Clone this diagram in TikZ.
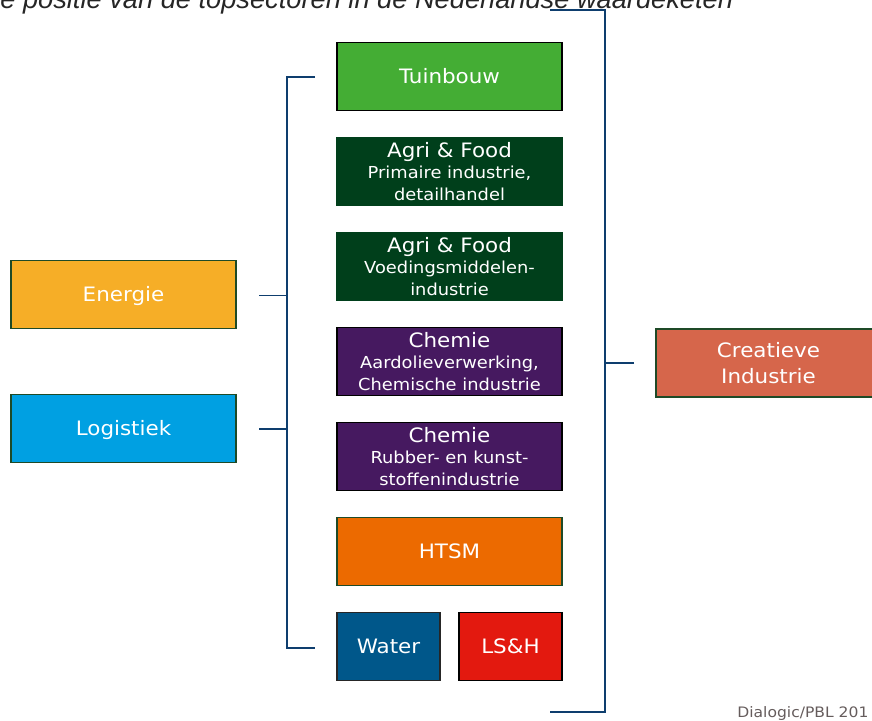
\documentclass[tikz,border=0pt]{standalone}
\usepackage{fontspec}
\setmainfont{DejaVu Sans}[FakeStretch=1.08]
\newfontfamily\titlefont{Liberation Sans}
\usepackage{xcolor}
\definecolor{cTuin}{HTML}{44AD34}
\definecolor{cAgri}{HTML}{003F1B}
\definecolor{cChem}{HTML}{461960}
\definecolor{cHtsm}{HTML}{EC6A00}
\definecolor{cWater}{HTML}{00578A}
\definecolor{cLsh}{HTML}{E3190F}
\definecolor{cEnergie}{HTML}{F6AE27}
\definecolor{cLogis}{HTML}{00A0E2}
\definecolor{cCreat}{HTML}{D6664B}
\definecolor{cLine}{HTML}{0E3E6E}
\definecolor{cEdge}{HTML}{1E4A27}
\definecolor{cSource}{HTML}{655C5C}
\usepackage{tikz}
\usetikzlibrary{positioning}
\newcommand{\subsize}{\fontsize{9.4}{11.3}\selectfont}
\tikzset{
  node-box/.style={draw=cEdge,line width=0.8pt,minimum width=4.5cm,
    minimum height=1.36cm,inner sep=0pt,outer sep=0pt,align=center,
    text=white,font=\fontsize{11.3}{12.3}\selectfont},
  node-one/.style={text height=0.8em,text depth=0pt},
  node-small/.style={minimum width=2.06cm},
  node-tuin/.style={fill=cTuin,draw=black},
  node-agri/.style={fill=cAgri,draw=cAgri},
  node-chem/.style={fill=cChem,draw=black},
  node-htsm/.style={fill=cHtsm},
  node-water/.style={fill=cWater,draw=black!85},
  node-lsh/.style={fill=cLsh,draw=black},
  node-energie/.style={fill=cEnergie},
  node-logis/.style={fill=cLogis},
  node-creat/.style={fill=cCreat,font=\fontsize{11.3}{14.7}\selectfont},
  bracket/.style={draw=cLine,line width=1.1pt},
}
\begin{document}
\begin{tikzpicture}[x=0.02cm,y=-0.02cm,node distance=0.54cm]
  \useasboundingbox (0,0) rectangle (872,720);
  % middenkolom
  \node[node-box,node-one,node-tuin] (tuin) at (449.5,76.5) {Tuinbouw};
  \node[node-box,node-agri,below=of tuin] (agri1)
    {Agri \& Food\\\subsize Primaire industrie,\\\subsize detailhandel};
  \node[node-box,node-agri,below=of agri1] (agri2)
    {Agri \& Food\\\subsize Voedingsmiddelen-\\\subsize industrie};
  \node[node-box,node-chem,below=of agri2] (chem1)
    {Chemie\\\subsize Aardolieverwerking,\\\subsize Chemische industrie};
  \node[node-box,node-chem,below=of chem1] (chem2)
    {Chemie\\\subsize Rubber- en kunst-\\\subsize stoffenindustrie};
  \node[node-box,node-one,node-htsm,below=of chem2] (htsm) {HTSM};
  \node[node-box,node-one,node-small,node-water,below=of htsm.south west,
    anchor=north west] (water) {Water};
  \node[node-box,node-one,node-small,node-lsh,below=of htsm.south east,
    anchor=north east] (lsh) {LS\&H};
  % links en rechts
  \node[node-box,node-one,node-energie] (energie) at (123.5,294.5) {Energie};
  \node[node-box,node-one,node-logis] (logis) at (123.5,428.5) {Logistiek};
  \node[node-box,node-creat] (creat) at (768.5,363)
    {Creatieve\\Industrie};
  % haken
  \coordinate (lb-top) at (315,77);
  \coordinate (lb-bot) at (315,648);
  \coordinate (lb-e) at (259,295.5);
  \coordinate (lb-l) at (259,429);
  \coordinate (rb-top) at (550,10);
  \coordinate (rb-bot) at (550,712);
  \coordinate (rb-c) at (634,363);
  \draw[bracket] (lb-top) -| (lb-e -| 287,0) -- (287,0 |- lb-bot) -- (lb-bot);
  \draw[bracket] (lb-e) -- (lb-e -| 287,0);
  \draw[bracket] (lb-l) -- (lb-l -| 287,0);
  \draw[bracket] (rb-top) -| (605,0 |- rb-bot) -- (rb-bot);
  \draw[bracket] (rb-c) -- (rb-c -| 605,0);
  % teksten
  \node[anchor=base west,inner sep=0pt,text=black!85,
    font=\titlefont\fontsize{15.5}{18}\selectfont\itshape]
    (titel) at (0,8.5) {e positie van de topsectoren in de Nederlandse waardeketen};
  \node[anchor=base west,inner sep=0pt,text=cSource,font=\fontsize{8.2}{10}\selectfont]
    (bron) at (737,717.5) {Dialogic/PBL 201};
\end{tikzpicture}
\end{document}
